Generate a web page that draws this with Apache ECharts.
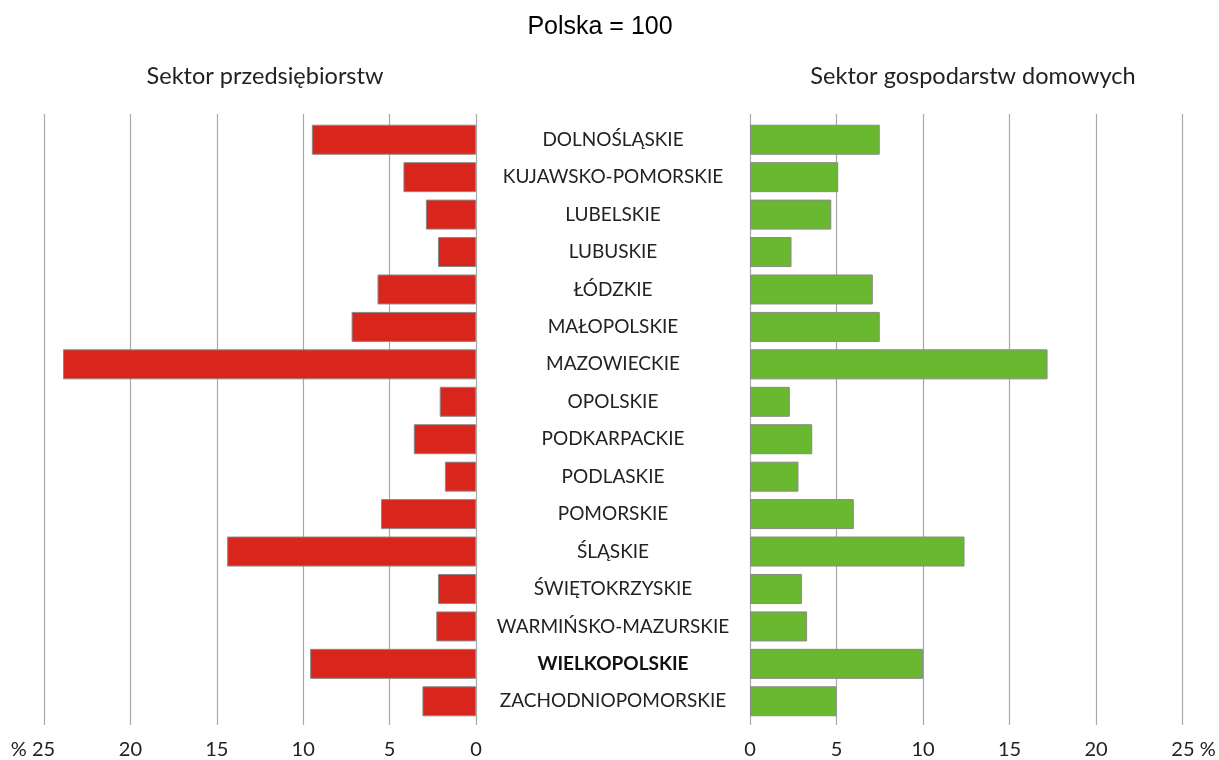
<!DOCTYPE html>
<html>
<head>
<meta charset="utf-8">
<script src="https://cdn.jsdelivr.net/npm/echarts@6/dist/echarts.min.js"></script>
<style>
  html, body { margin: 0; padding: 0; background: #fff; }
  #chart { width: 1219px; height: 760px; }
</style>
</head>
<body>
<div id="chart"></div>
<script>
// regiony (województwa), od góry do dołu
const regions = [
  'DOLNOŚLĄSKIE', 'KUJAWSKO-POMORSKIE', 'LUBELSKIE', 'LUBUSKIE', 'ŁÓDZKIE',
  'MAŁOPOLSKIE', 'MAZOWIECKIE', 'OPOLSKIE', 'PODKARPACKIE', 'PODLASKIE',
  'POMORSKIE', 'ŚLĄSKIE', 'ŚWIĘTOKRZYSKIE', 'WARMIŃSKO-MAZURSKIE',
  'WIELKOPOLSKIE', 'ZACHODNIOPOMORSKIE'
]
const enterprises = [9.5, 4.2, 2.9, 2.2, 5.7, 7.2, 23.9, 2.1, 3.6, 1.8, 5.5, 14.4, 2.2, 2.3, 9.6, 3.1]
const households = [7.5, 5.1, 4.7, 2.4, 7.1, 7.5, 17.2, 2.3, 3.6, 2.8, 6.0, 12.4, 3.0, 3.3, 10.0, 5.0]
const highlighted = 'WIELKOPOLSKIE'
const axisMax = 25
const axisStep = 5

const font = 'Lato, "Open Sans", sans-serif'
const gridColor = '#a8a8a8'
const barBorder = '#8a8a8a'

const chart = echarts.init(document.getElementById('chart'), null, { renderer: 'canvas' })

const hiddenValueX = (grid, inverse) => ({
  type: 'value', gridIndex: grid, min: 0, max: axisMax, inverse: inverse,
  show: false
})

const tickValueX = (grid, inverse, fmt) => ({
  type: 'value', gridIndex: grid, min: 0, max: axisMax, interval: axisStep, inverse: inverse,
  axisLine: { show: false },
  axisTick: { show: false },
  splitLine: { show: true, lineStyle: { color: gridColor, width: 1.2 } },
  axisLabel: {
    margin: 15,
    fontFamily: font,
    fontSize: 20,
    color: '#222',
    formatter: fmt,
    rich: {
      l: { fontFamily: font, fontSize: 20, color: '#222', padding: [0, 22, 0, 0] },
      r: { fontFamily: font, fontSize: 20, color: '#222', padding: [0, 0, 0, 22] }
    }
  }
})

const option = {
  animation: false,
  title: [
    {
      text: 'Polska = 100', left: 595, top: 10, textAlign: 'center',
      textStyle: { fontFamily: '"Liberation Sans", Arial, sans-serif', fontSize: 25, fontWeight: 'normal', color: '#000' }
    },
    {
      text: 'Sektor przedsiębiorstw', left: 260, top: 59, textAlign: 'center',
      textStyle: { fontFamily: font, fontSize: 23.5, fontWeight: 'normal', color: '#222' }
    },
    {
      text: 'Sektor gospodarstw domowych', left: 968, top: 59, textAlign: 'center',
      textStyle: { fontFamily: font, fontSize: 23.5, fontWeight: 'normal', color: '#222' }
    }
  ],
  grid: [
    { left: 44, width: 432, top: 121, height: 599 },
    { left: 750, width: 432.5, top: 121, height: 599 },
    { left: 44, width: 432, top: 114, height: 612 },
    { left: 750, width: 432.5, top: 114, height: 612 }
  ],
  xAxis: [
    hiddenValueX(0, true),
    hiddenValueX(1, false),
    tickValueX(2, true, v => v === axisMax ? '{l|% ' + v + '}' : String(v)),
    tickValueX(3, false, v => v === axisMax ? '{r|' + v + ' %}' : String(v))
  ],
  yAxis: [
    {
      type: 'category', gridIndex: 0, data: regions, inverse: true, position: 'right',
      axisLine: { show: false },
      axisTick: { show: false },
      axisLabel: {
        margin: 137,
        align: 'center',
        fontFamily: font,
        fontSize: 19,
        color: '#222',
        formatter: v => v === highlighted ? '{b|' + v + '}' : v,
        rich: {
          b: { fontFamily: font, fontSize: 19, fontWeight: 'bold', color: '#111' }
        }
      }
    },
    {
      type: 'category', gridIndex: 1, data: regions, inverse: true,
      show: false
    },
    { type: 'value', gridIndex: 2, show: false, min: 0, max: 1 },
    { type: 'value', gridIndex: 3, show: false, min: 0, max: 1 }
  ],
  series: [
    {
      name: 'Sektor przedsiębiorstw',
      type: 'bar',
      xAxisIndex: 0, yAxisIndex: 0,
      data: enterprises,
      barWidth: 30,
      itemStyle: { color: '#d9261c', borderColor: barBorder, borderWidth: 1 }
    },
    {
      name: 'Sektor gospodarstw domowych',
      type: 'bar',
      xAxisIndex: 1, yAxisIndex: 1,
      data: households,
      barWidth: 30,
      itemStyle: { color: '#6ab82f', borderColor: barBorder, borderWidth: 1 }
    }
  ]
}

chart.setOption(option)
</script>
</body>
</html>
